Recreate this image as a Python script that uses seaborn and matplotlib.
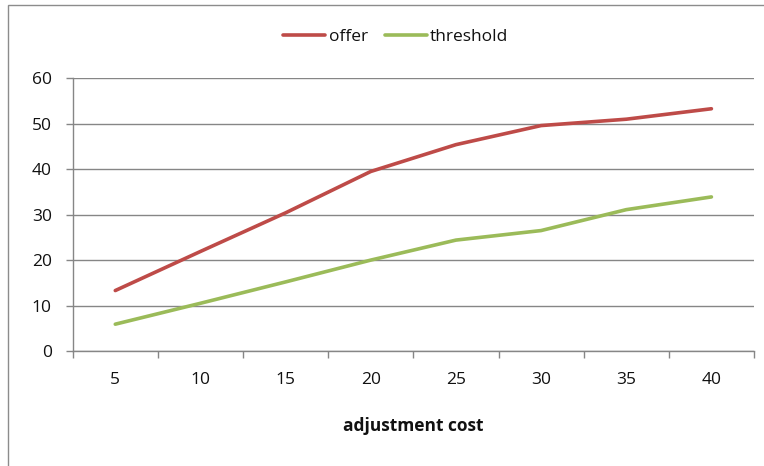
import matplotlib
matplotlib.use("Agg")
import matplotlib.pyplot as plt
import seaborn as sns
import pandas as pd
import numpy as np
from matplotlib.patches import Rectangle
from matplotlib.lines import Line2D

categories = ["5", "10", "15", "20", "25", "30", "35", "40"]
offer = [13.3, 21.9, 30.4, 39.5, 45.4, 49.6, 51.0, 53.3]
threshold = [5.9, 10.5, 15.2, 20.0, 24.4, 26.5, 31.1, 33.9]
yticks = [0, 10, 20, 30, 40, 50, 60]

sns.set_style("white")
plt.rcParams["font.family"] = ["Open Sans", "DejaVu Sans"]

df = pd.DataFrame({
    "x": list(range(len(categories))) * 2,
    "value": offer + threshold,
    "series": ["offer"] * len(categories) + ["threshold"] * len(categories),
})

fig = plt.figure(figsize=(7.64, 4.66), dpi=100)
ax = fig.add_axes([72.7 / 764, 1 - 351 / 466, (754 - 72.7) / 764, (351 - 78.3) / 466])

palette = {"offer": "#BE4B48", "threshold": "#9BBB59"}
sns.lineplot(data=df, x="x", y="value", hue="series", palette=palette,
             linewidth=2.6, ax=ax, legend=False)

ax.set_xlim(-0.5, len(categories) - 0.5)
ax.set_ylim(0, 60)
ax.set_yticks(yticks)
ax.set_yticklabels([str(v) for v in yticks])
ax.set_xticks(range(len(categories)))
ax.set_xticklabels(categories)
ax.set_xticks(np.arange(-0.5, len(categories), 1.0), minor=True)

grid_c = "#868686"
ax.yaxis.grid(True, color=grid_c, linewidth=1.0)
ax.xaxis.grid(False)
ax.set_axisbelow(True)
for s in ["top", "right"]:
    ax.spines[s].set_visible(False)
for s in ["left", "bottom"]:
    ax.spines[s].set_color(grid_c)
    ax.spines[s].set_linewidth(1.0)

fs = 12.5
ax.tick_params(axis="x", which="major", length=0, pad=15, labelsize=fs, labelcolor="#111111")
ax.tick_params(axis="x", which="minor", length=5, width=1, color=grid_c, direction="out", bottom=True)
ax.tick_params(axis="y", which="major", length=5, width=1, color=grid_c, direction="out", left=True,
               pad=10, labelsize=fs, labelcolor="#111111")

ax.set_xlabel("adjustment cost", fontsize=fs, fontweight="bold", color="#111111", labelpad=21)
ax.set_ylabel("")

handles = [Line2D([], [], color=palette["offer"], linewidth=2.6),
           Line2D([], [], color=palette["threshold"], linewidth=2.6)]
fig.legend(handles, ["offer", "threshold"], loc="center", bbox_to_anchor=(396 / 764, 1 - 37 / 466),
           ncol=2, frameon=False, fontsize=fs, handlelength=2.4, handletextpad=0.2,
           columnspacing=1.0, labelcolor="#111111")

fig.patches.append(Rectangle((8 / 764, -0.1), 1.2, 1.1 - 4.5 / 466, transform=fig.transFigure,
                             fill=False, edgecolor="#8c8c8c", linewidth=1.0, zorder=0))

fig.savefig("out.png", dpi=100)
